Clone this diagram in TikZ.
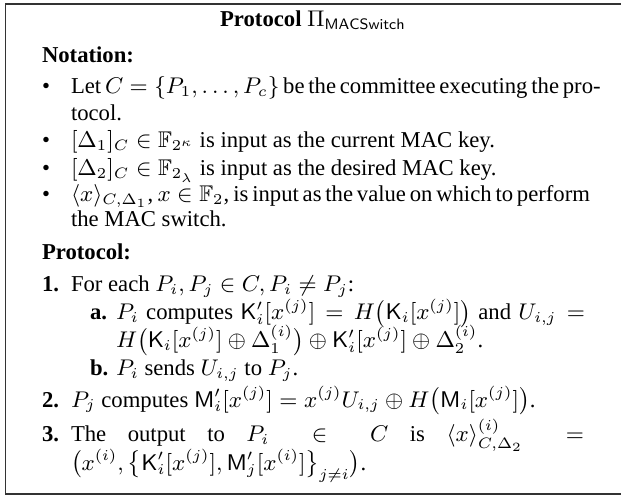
\documentclass[tikz,border=0pt]{standalone}
\usepackage{amsmath,amssymb}
\usepackage{fontspec}
\setmainfont{Liberation Serif}

% one unit = one pixel of the 621 x 496 canvas, y pointing down
\tikzset{
  px/.style={x=0.39683pt,y=-0.39683pt},
  ln/.style={anchor=base west,inner sep=0pt,outer sep=0pt,font=\fontsize{9}{10.5}\selectfont},
  ttl/.style={anchor=base,inner sep=0pt,outer sep=0pt,font=\fontsize{9}{10.5}\selectfont},
  frame/.style={draw=black!80,line width=0.55pt},
}
% a line justified to a given width
\newcommand\jline[2]{\makebox[#1][s]{#2}}

\begin{document}
\begin{tikzpicture}[px]
\useasboundingbox (0,0) rectangle (621,496);
\fill[white] (0,0) rectangle (621,496);
\draw[frame] (640,4) -- (5.5,4) -- (5.5,494) -- (640,494);

\node[ttl] (title) at (313,27) {\textbf{Protocol} $\Pi_{\mathsf{MACSwitch}}$};

\node[ln] (nota) at (42,63) {\textbf{Notation:}};
\node[ln] (b1) at (42,93.5) {\textbullet};
\node[ln] (l1) at (71,93.5) {\jline{203.6pt}{Let $C = \{P_1, \ldots, P_c\}$ be the committee executing the pro-}};
\node[ln] (l1b) at (71,121) {tocol.};
\node[ln] (b2) at (42,148) {\textbullet};
\node[ln] (l2) at (71,148) {$[\Delta_1]_C \in \mathbb{F}_{2^\kappa}$ is input as the current MAC key.};
\node[ln] (b3) at (42,176) {\textbullet};
\node[ln] (l3) at (71,176) {$[\Delta_2]_C \in \mathbb{F}_{2_\lambda}$ is input as the desired MAC key.};
\node[ln] (b4) at (42,202) {\textbullet};
\node[ln] (l4) at (71,202) {\jline{203.6pt}{$\langle x\rangle_{C,\Delta_1}$, $x \in \mathbb{F}_2$, is input as the value on which to perform}};
\node[ln] (l4b) at (71,227) {the MAC switch.};

\node[ln] (prot) at (42,260) {\textbf{Protocol:}};
\node[ln] (n1) at (42,292) {\textbf{1.}};
\node[ln] (s1) at (71,292) {For each $P_i, P_j \in C, P_i \neq P_j$:};
\node[ln] (na) at (90,320) {\textbf{a.}};
\node[ln] (sa) at (116,320) {\jline{186.1pt}{$P_i$ computes $\mathsf{K}'_i[x^{(j)}] = H\big(\mathsf{K}_i[x^{(j)}]\big)$ and $U_{i,j} =$}};
\node[ln] (sa2) at (116,348) {$H\big(\mathsf{K}_i[x^{(j)}] \oplus \Delta_1^{(i)}\big) \oplus \mathsf{K}'_i[x^{(j)}] \oplus \Delta_2^{(i)}$.};
\node[ln] (nb) at (90,376) {\textbf{b.}};
\node[ln] (sb) at (116,376) {$P_i$ sends $U_{i,j}$ to $P_j$.};
\node[ln] (n2) at (42,407) {\textbf{2.}};
\node[ln] (s2) at (71,407) {$P_j$ computes $\mathsf{M}'_i[x^{(j)}] = x^{(j)}U_{i,j} \oplus H\big(\mathsf{M}_i[x^{(j)}]\big)$.};
\node[ln] (n3) at (42,442) {\textbf{3.}};
\node[ln] (s3) at (71,442) {\jline{203.6pt}{The output to $P_i \in C$ is $\langle x\rangle^{(i)}_{C,\Delta_2} =$}};
\node[ln] (s3b) at (71,470) {$\big(x^{(i)}, \big\{\mathsf{K}'_i[x^{(j)}], \mathsf{M}'_j[x^{(i)}]\big\}_{j\neq i}\big)$.};
\end{tikzpicture}
\end{document}
